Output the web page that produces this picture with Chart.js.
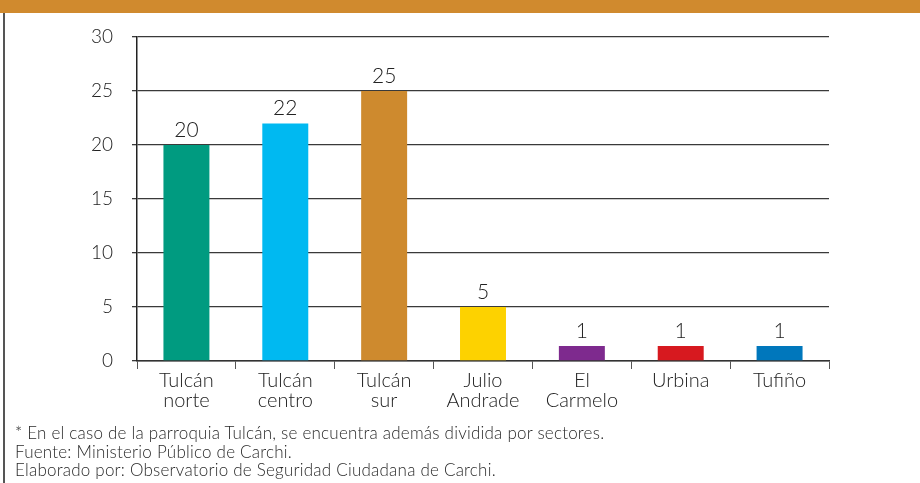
<!DOCTYPE html>
<html>
<head>
<meta charset="utf-8">
<script src="https://cdn.jsdelivr.net/npm/chart.js@4.4.1/dist/chart.umd.min.js"></script>
<style>
  html, body { margin: 0; padding: 0; background: #fff; }
  #wrap { position: relative; width: 920px; height: 483px; overflow: hidden; font-family: Lato, "Noto Sans", sans-serif; }
  #header { position: absolute; left: 0; top: 0; width: 920px; height: 13px; background: #D08A2E; }
  #leftline { position: absolute; left: 3px; top: 13px; width: 1.5px; height: 470px; background: #555; }
  canvas { position: absolute; left: 0; top: 0; }
  #footer { position: absolute; left: 15px; top: 424px; font-size: 17px; font-weight: 300; letter-spacing: 0.22px; line-height: 18.5px; color: #2a2a2a; white-space: nowrap; }
</style>
</head>
<body>
<div id="wrap">
  <div id="header"></div>
  <div id="leftline"></div>
  <canvas id="c" width="920" height="483"></canvas>
  <div id="footer">
    <div>* En el caso de la parroquia Tulcán, se encuentra además dividida por sectores.</div>
    <div>Fuente: Ministerio Público de Carchi.</div>
    <div>Elaborado por: Observatorio de Seguridad Ciudadana de Carchi.</div>
  </div>
</div>
<script>
const categories = [["Tulcán","norte"],["Tulcán","centro"],["Tulcán","sur"],["Julio","Andrade"],["El","Carmelo"],["Urbina"],["Tufiño"]];
const values = [20, 22, 25, 5, 1, 1, 1];
const barColors = ["#009B80","#00B9F1","#CE8A2E","#FDD200","#7E2A8E","#D7191F","#0077BC"];
const yTicks = [0, 5, 10, 15, 20, 25, 30];

const FONT = "Lato, 'Noto Sans', sans-serif";

const valueLabels = {
  id: 'valueLabels',
  afterDatasetsDraw(chart) {
    const ctx = chart.ctx;
    const meta = chart.getDatasetMeta(0);
    ctx.save();
    ctx.font = "300 21px " + FONT;
    ctx.fillStyle = "#222";
    ctx.textAlign = "center";
    ctx.textBaseline = "alphabetic";
    meta.data.forEach((bar, i) => {
      ctx.fillText(String(values[i]), bar.x, bar.y - 8.5);
    });
    ctx.restore();
  }
};

new Chart(document.getElementById('c'), {
  type: 'bar',
  data: {
    labels: categories,
    datasets: [{
      data: values,
      backgroundColor: barColors,
      borderWidth: 0,
      barPercentage: 0.465,
      categoryPercentage: 1.0,
      minBarLength: 15
    }]
  },
  options: {
    responsive: false,
    animation: false,
    devicePixelRatio: 1,
    layout: { padding: { left: 0, right: 91, top: 37, bottom: 0 } },
    plugins: { legend: { display: false }, tooltip: { enabled: false }, title: { display: false } },
    scales: {
      x: {
        offset: true,
        afterFit(s) { s.height = 122; },
        grid: { display: true, drawOnChartArea: false, drawTicks: true, tickLength: 8, tickColor: "#555", tickWidth: 1, offset: true },
        border: { display: true, color: "#333", width: 1.5 },
        ticks: { font: { family: FONT, size: 20, weight: 300, lineHeight: 1.0 }, color: "#222", padding: 1.5, maxRotation: 0, autoSkip: false }
      },
      y: {
        min: 0, max: 30,
        afterFit(s) { s.width = 137; },
        afterBuildTicks(s) { s.ticks = yTicks.map(v => ({ value: v })); },
        grid: { color: "#3a3a3a", lineWidth: 1.3, drawTicks: true, tickLength: 5, tickColor: "#3a3a3a" },
        border: { display: true, color: "#222", width: 1.5 },
        ticks: { font: { family: FONT, size: 19, weight: 300 }, color: "#222", padding: 19 }
      }
    }
  },
  plugins: [valueLabels]
});
</script>
</body>
</html>
